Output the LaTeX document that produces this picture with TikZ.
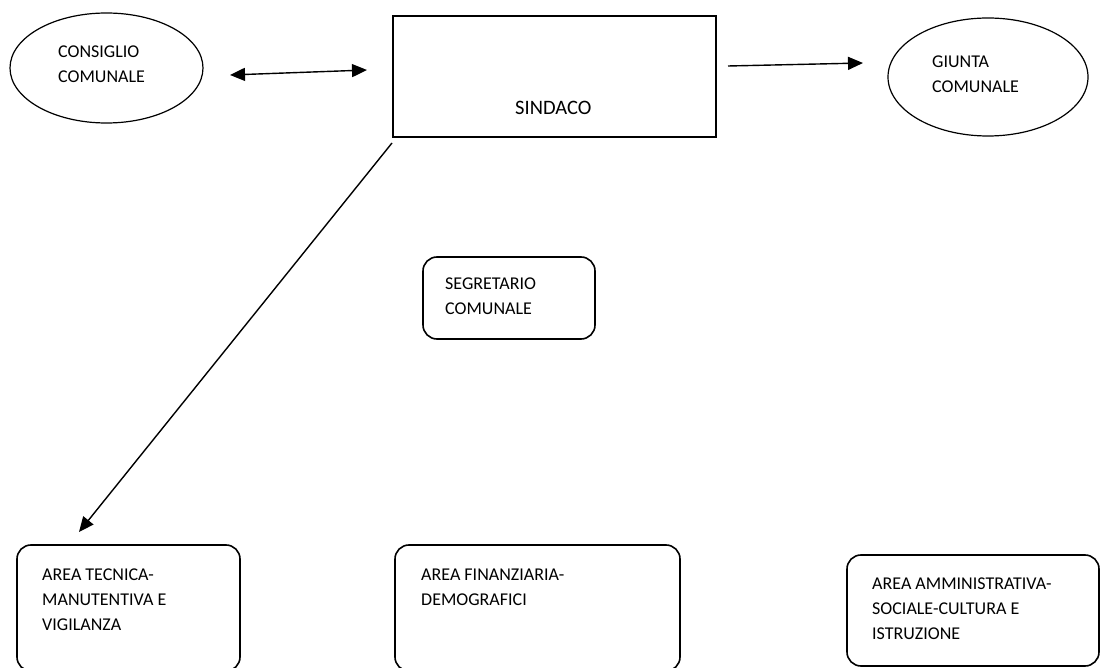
\documentclass[tikz,border=0pt]{standalone}
\usepackage{fontspec}
\setmainfont{Carlito}
\usetikzlibrary{arrows.meta,shapes.geometric}
\begin{document}
\begin{tikzpicture}[x=1pt,y=-1pt,
  oval/.style={draw,ellipse,line width=1.2pt,inner sep=0pt},
  sqbox/.style={draw,line width=2pt,inner sep=0pt},
  rbox/.style={draw,rounded corners=14pt,line width=1.6pt,inner sep=0pt},
  lbl/.style={anchor=base west,inner sep=0pt,align=left,font=\fontsize{18}{25}\selectfont},
  arr/.style={line width=1.4pt,-{Triangle[length=15pt,width=13pt]}},
  darr/.style={line width=1.4pt,{Triangle[length=15pt,width=13pt]}-{Triangle[length=15pt,width=13pt]}}]
\useasboundingbox (0,0) rectangle (1101,668);
\clip (0,0) rectangle (1101,668);
% shapes
\node[oval,minimum width=193pt,minimum height=110pt] (cons) at (106.5,68) {};
\node[sqbox,minimum width=323pt,minimum height=121pt] (sind) at (554.5,76.5) {};
\node[oval,minimum width=200pt,minimum height=118pt] (giun) at (988,77) {};
\node[rbox,minimum width=172pt,minimum height=82pt] (segr) at (509,298) {};
\node[rbox,minimum width=223pt,minimum height=126pt] (tec) at (128.5,608) {};
\node[rbox,minimum width=285pt,minimum height=126pt] (fin) at (537.5,608) {};
\node[rbox,minimum width=252pt,minimum height=111pt] (amm) at (973,610.5) {};
% texts (anchored at the baseline of the last line)
\node[lbl] (tcons) at (58,83) {CONSIGLIO\\COMUNALE};
\node[lbl,font=\fontsize{20.5}{25}\selectfont] (tsind) at (515,115) {SINDACO};
\node[lbl] (tgiun) at (932,93) {GIUNTA\\COMUNALE};
\node[lbl] (tsegr) at (445,315) {SEGRETARIO\\COMUNALE};
\node[lbl] (ttec) at (42,630) {AREA TECNICA-\\MANUTENTIVA E\\VIGILANZA};
\node[lbl] (tfin) at (421,605) {AREA FINANZIARIA-\\DEMOGRAFICI};
\node[lbl] (tamm) at (872,639) {AREA AMMINISTRATIVA-\\SOCIALE-CULTURA E\\ISTRUZIONE};
% connectors
\coordinate (c1) at (230,75);
\coordinate (c2) at (367,70);
\draw[darr] (c1) -- (c2);
\coordinate (g1) at (728,66);
\coordinate (g2) at (863,63);
\draw[arr] (g1) -- (g2);
\coordinate (d1) at (392,143);
\coordinate (d2) at (79,532);
\draw[arr] (d1) -- (d2);
\end{tikzpicture}
\end{document}
